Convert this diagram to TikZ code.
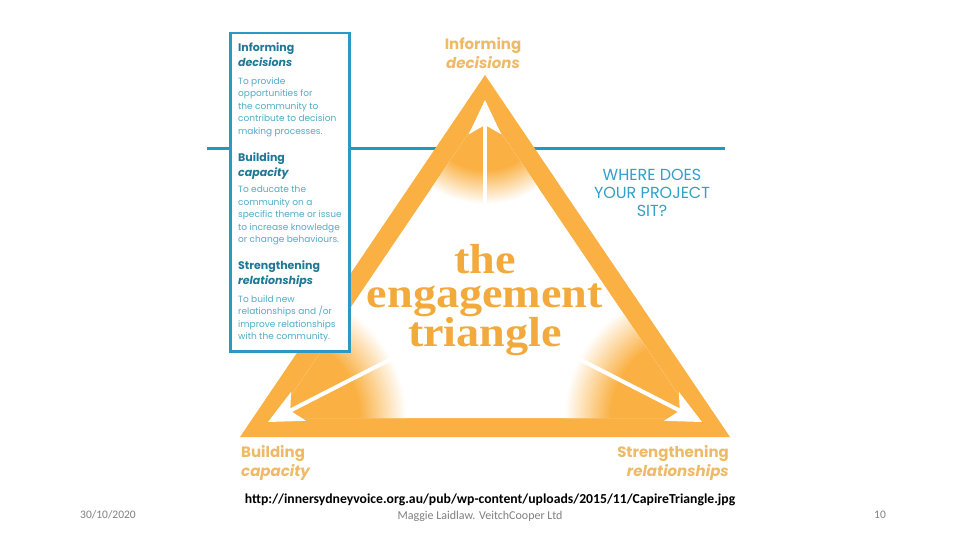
\documentclass[tikz,border=0pt]{standalone}
\usepackage{fontspec}
\setmainfont{Poppins}
\newfontfamily\engfont[FakeStretch=1.1]{Liberation Serif}
\newfontfamily\calib{Carlito}
\usetikzlibrary{arrows.meta}
\definecolor{tri}{RGB}{250,176,66}
\definecolor{lbl}{RGB}{238,186,104}
\definecolor{eng}{RGB}{243,170,60}
\definecolor{blueline}{RGB}{34,150,198}
\definecolor{boxb}{RGB}{45,152,196}
\definecolor{head}{RGB}{30,120,150}
\definecolor{bodyc}{RGB}{80,172,200}
\definecolor{where}{RGB}{50,160,200}
\definecolor{foot}{RGB}{128,128,128}
\pgfdeclareradialshading{cornerfade}{\pgfpoint{0bp}{0bp}}{color(0bp)=(tri); color(16bp)=(tri); color(25bp)=(white); color(50bp)=(white)}
\tikzset{
  boxhead/.style={anchor=north west, inner sep=0pt, align=left, text=head, font=\fontsize{11}{15}\selectfont\bfseries},
  boxbody/.style={anchor=north west, inner sep=0pt, align=left, text=bodyc, font=\fontsize{9}{12.5}\selectfont},
  orlabel/.style={inner sep=0pt, text=lbl, font=\fontsize{15}{19.5}\selectfont\bfseries},
  warrow/.style={white, line width=4pt, -{Stealth[length=34pt,width=32pt,inset=9pt]}},
  foottext/.style={inner sep=0pt, text=foot, font=\calib\fontsize{11.5}{14}\selectfont},
  titleline/.style={inner sep=0pt, anchor=base, text=eng, font=\engfont\fontsize{42}{38}\selectfont\bfseries}
}
\begin{document}
\begin{tikzpicture}[x=1pt,y=-1pt]
\path[use as bounding box, fill=white] (0,0) rectangle (960,540);
% blue line
\coordinate (lineL) at (207,149);
\coordinate (lineR) at (725,149);
\draw[blueline, line width=3pt] (lineL) -- (lineR);
% triangle
\coordinate (A) at (485,75);
\coordinate (B) at (240,437);
\coordinate (C) at (730,437);
\coordinate (Ai) at (485,109);
\coordinate (Bi) at (276,418);
\coordinate (Ci) at (694,418);
\fill[tri] (A) -- (B) -- (C) -- cycle;
\fill[white] (Ai) -- (Bi) -- (Ci) -- cycle;
\begin{scope}
\clip (Ai) -- (Bi) -- (Ci) -- cycle;
\shade[shading=cornerfade] (Ai) circle[radius=95pt];
\shade[shading=cornerfade] (Bi) circle[radius=130pt];
\shade[shading=cornerfade] (Ci) circle[radius=130pt];
\end{scope}
% arrows
\coordinate (upS) at (485,235);
\coordinate (upT) at (485,100);
\coordinate (lS) at (430,339);
\coordinate (lT) at (268,422);
\coordinate (rS) at (540,339);
\coordinate (rT) at (702,422);
\draw[warrow] (upS) -- (upT);
\draw[warrow] (lS) -- (lT);
\draw[warrow] (rS) -- (rT);
% title
\node[titleline] (t1) at (485,273) {the};
\node[titleline] (t2) at (485,307) {engagement};
\node[titleline] (t3) at (485,346) {triangle};
% orange corner labels
\node[orlabel, align=center] (ltop) at (483,53) {Informing\\\textit{decisions}};
\node[orlabel, align=left, anchor=west] (lleft) at (241,463) {Building\\\textit{capacity}};
\node[orlabel, align=right, anchor=east] (lright) at (729,463) {Strengthening\\\textit{relationships}};
% where
\node[inner sep=0pt, align=center, text=where, font=\fontsize{16}{18}\selectfont] (where) at (652,193) {WHERE DOES\\YOUR PROJECT\\SIT?};
% box
\node[draw=boxb, line width=2.5pt, fill=white, minimum width=119pt, minimum height=318pt, anchor=north west, inner sep=0pt] (box) at (229,32) {};
\node[boxhead] (h1) at (238,42) {Informing\\\textit{decisions}};
\node[boxbody] (b1) at (238,77) {To provide\\opportunities for\\the community to\\contribute to decision\\making processes.};
\node[boxhead] (h2) at (238,152) {Building\\\textit{capacity}};
\node[boxbody] (b2) at (238,186) {To educate the\\community on a\\specific theme or issue\\to increase knowledge\\or change behaviours.};
\node[boxhead] (h3) at (238,260) {Strengthening\\\textit{relationships}};
\node[boxbody] (b3) at (238,295) {To build new\\relationships and /or\\improve relationships\\with the community.};
% footer
\node[foottext] (date) at (108,515) {30/10/2020};
\node[foottext] (num) at (880,515) {10};
\node[foottext, font=\calib\fontsize{12}{14}\selectfont] (auth) at (480,516) {Maggie Laidlaw. VeitchCooper Ltd};
\node[inner sep=0pt, text=black, font=\calib\fontsize{13.7}{15}\selectfont\bfseries] (url) at (490,500) {http://innersydneyvoice.org.au/pub/wp-content/uploads/2015/11/CapireTriangle.jpg};
\end{tikzpicture}
\end{document}
